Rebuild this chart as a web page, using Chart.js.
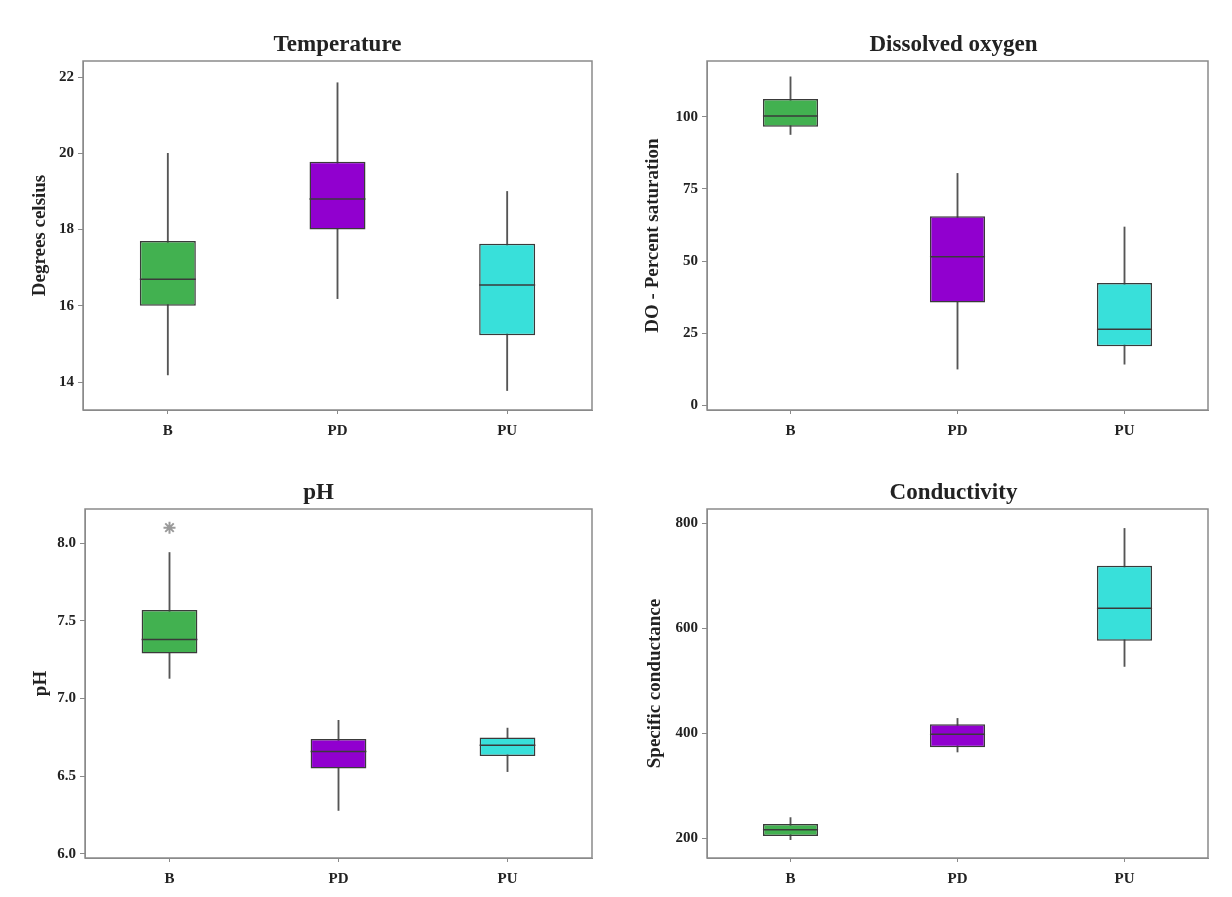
<!DOCTYPE html>
<html>
<head>
<meta charset="utf-8">
<script src="https://cdn.jsdelivr.net/npm/chart.js@4.4.1/dist/chart.umd.min.js"></script>
<style>
body { margin: 0; background: #fff; }
#page { position: relative; width: 1232px; height: 897px; }
#page canvas { position: absolute; }
</style>
</head>
<body>
<div id="page">
  <canvas id="temp" width="616" height="448" style="left:0;top:0"></canvas>
  <canvas id="oxygen" width="616" height="448" style="left:616px;top:0"></canvas>
  <canvas id="ph" width="616" height="449" style="left:0;top:448px"></canvas>
  <canvas id="cond" width="616" height="449" style="left:616px;top:448px"></canvas>
</div>
<script>
// Sites on the x axis and the fill of each box
const sites = ["B", "PD", "PU"];
const boxColors = ["#42b150", "#9100cf", "#38e0da"];

// Temperature (degrees celsius)
const tempMin = [14.19, 16.19, 13.78];
const tempQ1 = [16.0, 18.0, 15.23];
const tempMedian = [16.7, 18.8, 16.55];
const tempQ3 = [17.7, 19.78, 17.63];
const tempMax = [20.0, 21.85, 19.0];
const tempTicks = [14, 16, 18, 20, 22];

// Dissolved oxygen (percent saturation)
const doMin = [93.9, 12.5, 14.2];
const doQ1 = [96.6, 35.6, 20.4];
const doMedian = [100.3, 51.5, 26.3];
const doQ3 = [106.2, 65.5, 42.4];
const doMax = [113.9, 80.4, 61.8];
const doTicks = [0, 25, 50, 75, 100];

// pH
const phMin = [7.13, 6.28, 6.53];
const phQ1 = [7.29, 6.55, 6.63];
const phMedian = [7.38, 6.66, 6.70];
const phQ3 = [7.57, 6.74, 6.75];
const phMax = [7.94, 6.86, 6.81];
const phOutliers = [8.10, null, null];
const phTicks = [6.0, 6.5, 7.0, 7.5, 8.0];

// Conductivity (specific conductance)
const condMin = [197, 364, 527];
const condQ1 = [204, 373, 576];
const condMedian = [216, 398, 638];
const condQ3 = [227, 417, 719];
const condMax = [239, 428, 790];
const condTicks = [200, 400, 600, 800];

const serif = "'Liberation Serif', 'DejaVu Serif', serif";
const frameColor = "#8a8a8a";

// Draws the median lines, the frame round the plot area and the panel title
const boxExtras = {
    id: "boxExtras",
    afterDatasetsDraw(chart, args, opts) {
        let ctx = chart.ctx;
        let area = chart.chartArea;
        let y = chart.scales.y;
        let boxes = chart.getDatasetMeta(1).data;
        ctx.save();
        ctx.strokeStyle = "#3a3a3a";
        ctx.lineWidth = 1.5;
        opts.medians.forEach((m, i) => {
            let bar = boxes[i];
            let py = y.getPixelForValue(m);
            ctx.beginPath();
            ctx.moveTo(bar.x - bar.width / 2, py);
            ctx.lineTo(bar.x + bar.width / 2, py);
            ctx.stroke();
        });
        ctx.strokeStyle = frameColor;
        ctx.lineWidth = 1.5;
        ctx.strokeRect(area.left, area.top, area.right - area.left, area.bottom - area.top);

        // title centred over the plot area
        ctx.fillStyle = "#222";
        ctx.font = "bold 23px " + serif;
        ctx.textAlign = "center";
        ctx.textBaseline = "middle";
        ctx.fillText(opts.title, (area.left + area.right) / 2 + opts.titleShift, area.top - 16);
        ctx.restore();
    }
};

function makePanel(id, p)
{
    let datasets = [
        { // whiskers, drawn behind the boxes
            data: p.lo.map((v, i) => [v, p.hi[i]]),
            backgroundColor: "#555555",
            barThickness: 1.2,
            grouped: false,
            order: 2
        },
        { // boxes from first to third quartile
            data: p.q1.map((v, i) => [v, p.q3[i]]),
            backgroundColor: boxColors,
            borderColor: "#3a3a3a",
            borderWidth: 1.5,
            borderSkipped: false,
            barPercentage: 0.33,
            categoryPercentage: 1,
            grouped: false,
            order: 1
        }
    ];
    if (p.outliers) {
        datasets.push({
            type: "line",
            data: p.outliers,
            showLine: false,
            pointStyle: "star",
            pointRadius: 6,
            borderColor: "#9a9a9a",
            borderWidth: 2,
            order: 0
        });
    }

    new Chart(document.getElementById(id), {
        type: "bar",
        data: { labels: sites, datasets: datasets },
        options: {
            responsive: false,
            animation: false,
            devicePixelRatio: 1,
            layout: { padding: { left: 0, right: 24, top: 61, bottom: 0 } },
            plugins: {
                legend: { display: false },
                tooltip: { enabled: false },
                boxExtras: { medians: p.med, title: p.title, titleShift: p.titleShift || 0 }
            },
            scales: {
                x: {
                    offset: true,
                    grid: { display: true, drawOnChartArea: false, offset: false, tickLength: 4, color: frameColor },
                    border: { color: frameColor },
                    ticks: { color: "#222", padding: 8, font: { family: serif, size: 15, weight: "bold" } },
                    afterFit: (s) => { s.height = p.xHeight; }
                },
                y: {
                    min: p.min,
                    max: p.max,
                    afterBuildTicks: (s) => { s.ticks = p.ticks.map(v => ({ value: v })); },
                    grid: { display: true, drawOnChartArea: false, tickLength: 5, color: frameColor },
                    border: { color: frameColor },
                    ticks: {
                        color: "#222",
                        padding: 4,
                        font: { family: serif, size: 15, weight: "bold" },
                        callback: (v) => v.toFixed(p.decimals)
                    },
                    title: {
                        display: true,
                        text: p.yTitle,
                        color: "#222",
                        font: { family: serif, size: 19, weight: "bold" },
                        padding: { top: p.yTitleGap, bottom: 0 }
                    },
                    afterFit: (s) => { s.width = p.axisWidth; }
                }
            }
        },
        plugins: [boxExtras]
    });
}

makePanel("temp", {
    title: "Temperature", yTitle: "Degrees celsius",
    min: 13.27, max: 22.42, ticks: tempTicks, decimals: 0,
    lo: tempMin, q1: tempQ1, med: tempMedian, q3: tempQ3, hi: tempMax,
    axisWidth: 83, yTitleGap: 29, xHeight: 38
});
makePanel("oxygen", {
    title: "Dissolved oxygen", yTitle: "DO - Percent saturation",
    min: -1.7, max: 119.4, ticks: doTicks, decimals: 0,
    lo: doMin, q1: doQ1, med: doMedian, q3: doQ3, hi: doMax,
    axisWidth: 91, yTitleGap: 26, xHeight: 38, titleShift: -4
});
makePanel("ph", {
    title: "pH", yTitle: "pH",
    min: 5.974, max: 8.22, ticks: phTicks, decimals: 1,
    lo: phMin, q1: phQ1, med: phMedian, q3: phQ3, hi: phMax, outliers: phOutliers,
    axisWidth: 85, yTitleGap: 30, xHeight: 39, titleShift: -20
});
makePanel("cond", {
    title: "Conductivity", yTitle: "Specific conductance",
    min: 162, max: 827, ticks: condTicks, decimals: 0,
    lo: condMin, q1: condQ1, med: condMedian, q3: condQ3, hi: condMax,
    axisWidth: 91, yTitleGap: 28, xHeight: 39, titleShift: -4
});
</script>
</body>
</html>
